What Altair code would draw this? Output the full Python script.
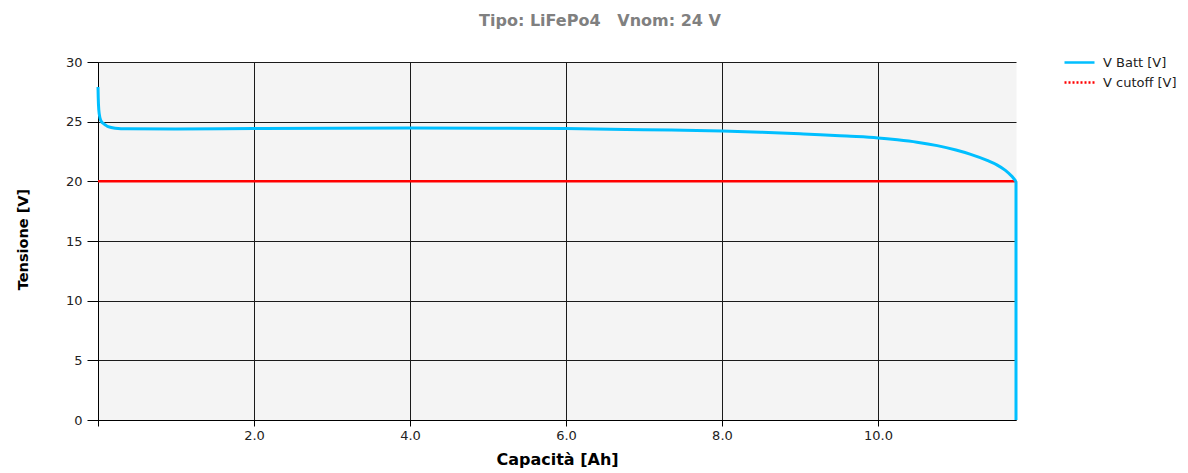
import altair as alt
import pandas as pd

# ---- data ----
capacity_ah = [0.0, 0.003, 0.01, 0.026, 0.045, 0.068, 0.1, 0.13, 0.22, 0.38, 1.0, 2.0, 3.0,
               4.0, 5.0, 6.0, 7.0, 8.0, 8.5, 9.0, 9.26, 9.6, 10.0, 10.25, 10.5, 10.76, 11.0,
               11.18, 11.4, 11.53, 11.63, 11.72, 11.77, 11.77]
v_batt = [27.9, 27.0, 26.0, 25.3, 25.0, 24.86, 24.7, 24.58, 24.45, 24.4, 24.38, 24.42, 24.45,
          24.47, 24.45, 24.42, 24.33, 24.22, 24.12, 23.99, 23.91, 23.79, 23.64, 23.48, 23.28,
          22.99, 22.62, 22.28, 21.75, 21.36, 20.94, 20.4, 20.0, 0.0]
cutoff_cap = [0.0, 11.77]
cutoff_v = [20.0, 20.0]
series_names = ["V Batt [V]", "V cutoff [V]"]
series_colors = ["#00BFFF", "#FF0000"]
x_ticks = [0, 2, 4, 6, 8, 10]
y_ticks = [0, 5, 10, 15, 20, 25, 30]
x_max = 11.77

# smooth discharge curve (strictly increasing capacity) and the final vertical drop
df_curve = pd.DataFrame({"cap": capacity_ah[:-1], "v": v_batt[:-1],
                         "series": series_names[0]})
df_drop = pd.DataFrame({"cap": capacity_ah[-2:], "v": v_batt[-2:],
                        "series": series_names[0], "idx": [0, 1]})
df_cut = pd.DataFrame({"cap": cutoff_cap, "v": cutoff_v,
                       "series": series_names[1], "idx": [0, 1]})
# invisible (clipped) helper rows that only feed the legend symbols
df_leg = pd.DataFrame({"cap": [0.0, 1.0, 0.0, 1.0], "v": [-50.0, -50.0, -50.0, -50.0],
                       "series": [series_names[0], series_names[0], series_names[1], series_names[1]]})

FONT = "DejaVu Sans"

x_enc = alt.X("cap:Q",
              scale=alt.Scale(domain=[0, x_max], nice=False, zero=False),
              axis=alt.Axis(values=x_ticks,
                            labelExpr="datum.value == 0 ? '' : format(datum.value, '.1f')",
                            title="Capacità [Ah]", titleFontSize=16, titleFontWeight="bold",
                            titleColor="#000000", titleFont=FONT, titleY=31, titleBaseline="top",
                            labelFontSize=13, labelFont=FONT, labelColor="#222222",
                            tickSize=6, labelPadding=3, grid=True, labelFlush=False))
y_enc = alt.Y("v:Q",
              scale=alt.Scale(domain=[0, 30], nice=False),
              axis=alt.Axis(values=y_ticks, title="Tensione [V]", titleFontSize=14.5,
                            titleFontWeight="bold", titleColor="#000000", titleFont=FONT,
                            titleX=-68, titleY=177, titleAngle=270, titleBaseline="bottom",
                            labelFontSize=13, labelFont=FONT, labelColor="#222222",
                            tickSize=11, labelPadding=5, grid=True))

# horizontal line symbol, 30px long, on a small layout footprint
legend = alt.Legend(title=None, orient="none", legendX=975, legendY=-6,
                    symbolType="M-3,0H3", symbolSize=100, symbolStrokeWidth=2.5,
                    labelFont=FONT, labelFontSize=13, labelColor="#222222",
                    labelOffset=17, padding=0, rowPadding=6)

color_enc = alt.Color("series:N", scale=alt.Scale(domain=series_names, range=series_colors),
                      legend=legend)
dash_enc = alt.StrokeDash("series:N",
                          scale=alt.Scale(domain=series_names, range=[[1, 0], [2, 2]]),
                          legend=legend)

cut_line = alt.Chart(df_cut).mark_line(strokeWidth=2.5).encode(
    x=x_enc, y=y_enc, color=color_enc, order="idx:Q")
curve_line = alt.Chart(df_curve).mark_line(strokeWidth=3, interpolate="monotone").encode(
    x=x_enc, y=y_enc, color=color_enc)
drop_line = alt.Chart(df_drop).mark_line(strokeWidth=3).encode(
    x=x_enc, y=y_enc, color=color_enc, order="idx:Q")
leg_line = alt.Chart(df_leg).mark_line(clip=True, strokeWidth=2.5).encode(
    x=x_enc, y=y_enc, color=color_enc, strokeDash=dash_enc)

chart = alt.layer(cut_line, curve_line, drop_line, leg_line).properties(
    width=918, height=358,
    background="#FFFFFF",
    autosize=alt.AutoSizeParams(type="none"),
    padding={"left": 90, "top": 54, "right": 164, "bottom": 48},
    title=alt.TitleParams(text="Tipo: LiFePo4\u00a0\u00a0 Vnom: 24 V", anchor="middle",
                          fontSize=16, font=FONT, fontWeight="bold", color="#808080",
                          baseline="alphabetic", offset=14, dx=43),
).configure_view(fill="#F4F4F4", stroke="transparent").configure_axis(
    domainColor="#000000", tickColor="#000000", gridColor="#1a1a1a",
    gridOpacity=1, gridWidth=1, domainWidth=1, tickWidth=1
)

chart.save("out.html", embed_options={"renderer": "svg", "actions": False})
